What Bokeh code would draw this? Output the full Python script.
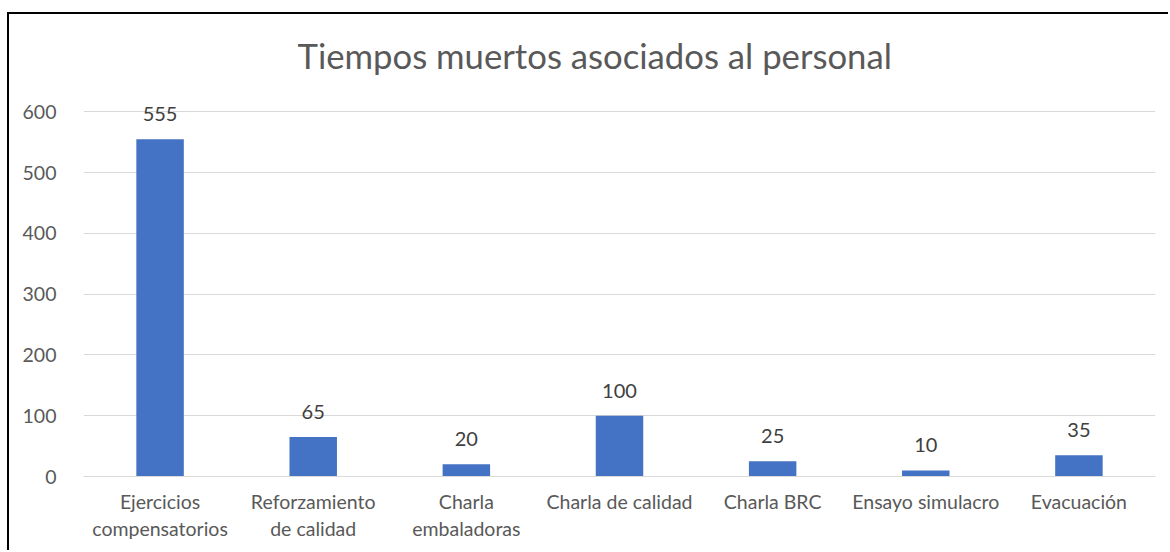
from bokeh.plotting import figure
from bokeh.models import ColumnDataSource, LabelSet, Title, FixedTicker, Range1d
from bokeh.core.properties import value
from bokeh.embed import file_html
from bokeh.resources import INLINE

categories = ["Ejercicios\ncompensatorios", "Reforzamiento\nde calidad", "Charla\nembaladoras",
              "Charla de calidad", "Charla BRC", "Ensayo simulacro", "Evacuación"]
values = [555, 65, 20, 100, 25, 10, 35]
y_ticks = [0, 100, 200, 300, 400, 500, 600]
title_text = "Tiempos muertos asociados al personal"

FONT = "Lato"

src = ColumnDataSource(dict(cat=categories, val=values, label=[str(v) for v in values]))

p = figure(x_range=categories, y_range=Range1d(0, 650), width=1161, height=538,
           output_backend="svg", toolbar_location=None, tools="",
           min_border_left=74, min_border_right=15, min_border_top=67, min_border_bottom=76,
           margin=(12, 0, 0, 7))
p.styles = {"border-top": "2px solid black", "border-left": "2px solid black"}

p.vbar(x="cat", top="val", source=src, width=0.31, fill_color="#4472C4", line_color=None)

p.add_layout(LabelSet(x="cat", y="val", text="label", source=src, text_align="center",
                      text_baseline="alphabetic", y_offset=18, text_font=value(FONT),
                      text_font_size="20px", text_color="#404040"))

p.add_layout(Title(text=title_text, align="left", offset=214, text_font=FONT,
                   text_font_size="34.7px", text_color="#595959", text_font_style="normal",
                   standoff=11), "above")

p.outline_line_color = None
p.xgrid.grid_line_color = None
p.ygrid.grid_line_color = "#d9d9d9"
p.ygrid.grid_line_width = 1

p.yaxis.ticker = FixedTicker(ticks=y_ticks)
p.yaxis.axis_line_color = None
p.yaxis.major_tick_line_color = None
p.yaxis.minor_tick_line_color = None
p.yaxis.major_label_standoff = 21
p.yaxis.major_label_text_font = FONT
p.yaxis.major_label_text_font_size = "19.5px"
p.yaxis.major_label_text_color = "#595959"

p.xaxis.axis_line_color = "#d9d9d9"
p.xaxis.major_tick_line_color = None
p.xaxis.minor_tick_line_color = None
p.xaxis.major_label_standoff = 7
p.xaxis.major_label_text_font = FONT
p.xaxis.major_label_text_font_size = "19.5px"
p.xaxis.major_label_text_color = "#595959"

open("out.html", "w").write(file_html(p, INLINE))
